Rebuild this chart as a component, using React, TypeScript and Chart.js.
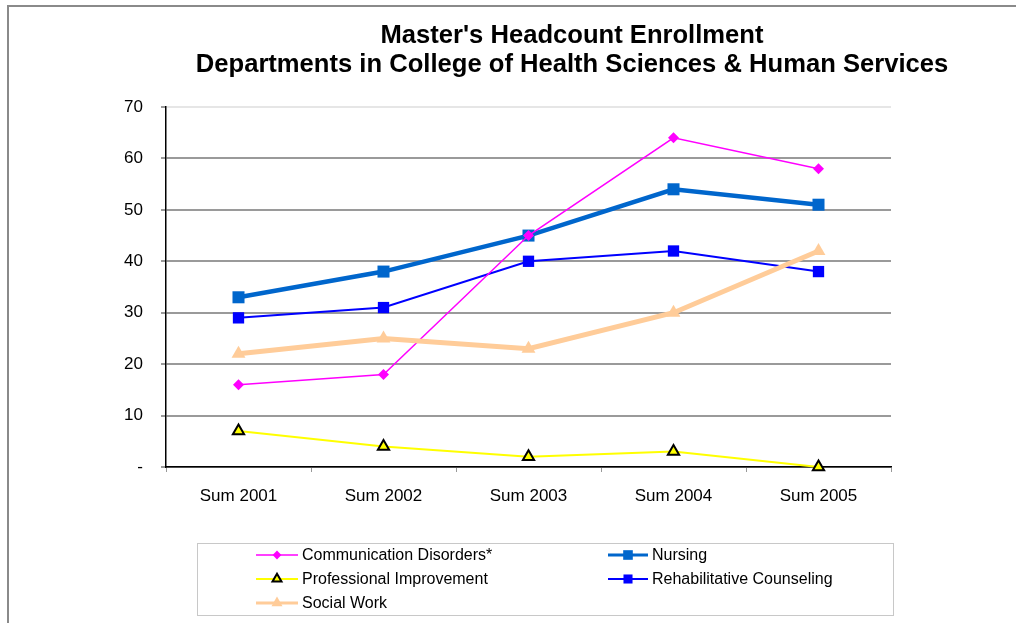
import React, { useEffect, useRef } from "react";
import { Chart, registerables } from "chart.js";
import { drawPoint } from "chart.js/helpers";

Chart.register(...registerables);

const categories = ["Sum 2001", "Sum 2002", "Sum 2003", "Sum 2004", "Sum 2005"];
const communicationDisorders = [16, 18, 45, 64, 58];
const nursing = [33, 38, 45, 54, 51];
const professionalImprovement = [7, 4, 2, 3, 0];
const rehabilitativeCounseling = [29, 31, 40, 42, 38];
const socialWork = [22, 25, 23, 30, 42];
const titleLines = [
  "Master's Headcount Enrollment",
  "Departments in College of Health Sciences & Human Services",
];
const yMin = 0;
const yMax = 70;
const yStep = 10;

const FONT = "'Liberation Sans', Arial, Helvetica, sans-serif";

const decorPlugin = {
  id: "decor",
  beforeDraw(chart: any) {
    const ctx = chart.ctx;
    ctx.save();
    ctx.fillStyle = "#ffffff";
    ctx.fillRect(0, 0, chart.width, chart.height);
    // outer frame
    ctx.strokeStyle = "#8a8a8a";
    ctx.lineWidth = 2;
    ctx.strokeRect(8, 6, chart.width + 20, chart.height + 20);
    ctx.restore();
  },
  afterDraw(chart: any) {
    const ctx = chart.ctx;
    ctx.save();
    // title
    ctx.fillStyle = "#000";
    ctx.font = `bold 25.6px ${FONT}`;
    ctx.textAlign = "center";
    ctx.textBaseline = "middle";
    ctx.fillText(titleLines[0], 572, 36);
    ctx.fillText(titleLines[1], 572, 65);

    // legend box
    ctx.strokeStyle = "#c8c8c8";
    ctx.lineWidth = 1;
    ctx.strokeRect(197.5, 543.5, 696, 72);

    const cols = [
      { x0: 256, x1: 298, tx: 302 },
      { x0: 608, x1: 648, tx: 652 },
    ];
    const rows = [555, 579, 603];
    ctx.font = `16px ${FONT}`;
    ctx.textAlign = "left";
    chart.data.datasets.forEach((ds: any) => {
      const c = cols[ds.legendCol];
      const y = rows[ds.legendRow];
      ctx.strokeStyle = ds.borderColor;
      ctx.lineWidth = Math.min(ds.borderWidth, 3);
      ctx.beginPath();
      ctx.moveTo(c.x0, y);
      ctx.lineTo(c.x1, y);
      ctx.stroke();
      ctx.fillStyle = ds.pointBackgroundColor;
      ctx.strokeStyle = ds.pointBorderColor;
      ctx.lineWidth = ds.pointBorderWidth;
      drawPoint(
        ctx,
        {
          pointStyle: ds.pointStyle,
          radius: ds.pointRadius * 0.8,
          rotation: 0,
          borderWidth: ds.pointBorderWidth,
        } as any,
        (c.x0 + c.x1) / 2,
        y
      );
      ctx.fillStyle = "#000";
      ctx.textBaseline = "middle";
      ctx.fillText(ds.label, c.tx, y + 1);
    });
    ctx.restore();
  },
};

export default function App() {
  const ref = useRef<HTMLCanvasElement | null>(null);

  useEffect(() => {
    document.body.style.margin = "0";
    const canvas = ref.current;
    if (!canvas) return;
    const chart = new Chart(canvas, {
      type: "line",
      data: {
        labels: categories,
        datasets: [
          {
            label: "Communication Disorders*",
            data: communicationDisorders,
            borderColor: "#ff00ff",
            backgroundColor: "#ff00ff",
            borderWidth: 1.5,
            pointStyle: "rectRot",
            pointRadius: 5.5,
            pointBackgroundColor: "#ff00ff",
            pointBorderColor: "#ff00ff",
            pointBorderWidth: 0,
            order: 1,
            legendCol: 0,
            legendRow: 0,
          },
          {
            label: "Nursing",
            data: nursing,
            borderColor: "#0066cc",
            backgroundColor: "#0066cc",
            borderWidth: 4.5,
            pointStyle: "rect",
            pointRadius: 8.5,
            pointBackgroundColor: "#0066cc",
            pointBorderColor: "#0066cc",
            pointBorderWidth: 0,
            order: 2,
            legendCol: 1,
            legendRow: 0,
          },
          {
            label: "Professional Improvement",
            data: professionalImprovement,
            borderColor: "#ffff00",
            backgroundColor: "#ffff00",
            borderWidth: 2,
            pointStyle: "triangle",
            pointRadius: 6.5,
            pointBackgroundColor: "#ffff00",
            pointBorderColor: "#000000",
            pointBorderWidth: 2,
            order: 4,
            legendCol: 0,
            legendRow: 1,
          },
          {
            label: "Rehabilitative Counseling",
            data: rehabilitativeCounseling,
            borderColor: "#0000ff",
            backgroundColor: "#0000ff",
            borderWidth: 2,
            pointStyle: "rect",
            pointRadius: 8,
            pointBackgroundColor: "#0000ff",
            pointBorderColor: "#0000ff",
            pointBorderWidth: 0,
            order: 3,
            legendCol: 1,
            legendRow: 1,
          },
          {
            label: "Social Work",
            data: socialWork,
            borderColor: "#ffcc99",
            backgroundColor: "#ffcc99",
            borderWidth: 5,
            pointStyle: "triangle",
            pointRadius: 8,
            pointBackgroundColor: "#ffcc99",
            pointBorderColor: "#ffcc99",
            pointBorderWidth: 0,
            order: 0,
            legendCol: 0,
            legendRow: 2,
          },
        ] as any,
      },
      options: {
        responsive: false,
        animation: false,
        events: [],
        layout: { padding: { left: 0, right: 125, top: 107, bottom: 0 } },
        elements: { line: { tension: 0 } },
        datasets: { line: { clip: false } as any },
        plugins: {
          legend: { display: false },
          title: { display: false },
          tooltip: { enabled: false },
        },
        scales: {
          x: {
            type: "category",
            offset: true,
            border: { display: true, color: "#000", width: 1.5 },
            grid: {
              offset: true,
              drawOnChartArea: false,
              drawTicks: true,
              tickLength: 5,
              tickColor: "#999",
              lineWidth: 1,
            },
            ticks: {
              color: "#000",
              font: { family: FONT, size: 17 },
              padding: 14,
              maxRotation: 0,
            },
            afterFit(scale: any) {
              scale.height = 623 - 467;
            },
          },
          y: {
            min: yMin,
            max: yMax,
            border: { display: true, color: "#000", width: 1.5 },
            grid: {
              color: (c: any) => (c.tick && c.tick.value === yMax ? "#e6e6e6" : "#9a9a9a"),
              lineWidth: 2,
              drawTicks: true,
              tickLength: 5,
              tickColor: "#9a9a9a",
            },
            ticks: {
              stepSize: yStep,
              color: "#000",
              font: { family: FONT, size: 17 },
              padding: 18,
              callback: (v: any) => (Number(v) === 0 ? "-" : String(v)),
            },
            afterFit(scale: any) {
              scale.width = 166;
            },
          },
        },
      },
      plugins: [decorPlugin],
    } as any);
    return () => chart.destroy();
  }, []);

  return (
    <div style={{ position: "absolute", left: 0, top: 0, width: 1016, height: 623 }}>
      <canvas ref={ref} width={1016} height={623} style={{ width: 1016, height: 623 }} />
    </div>
  );
}
